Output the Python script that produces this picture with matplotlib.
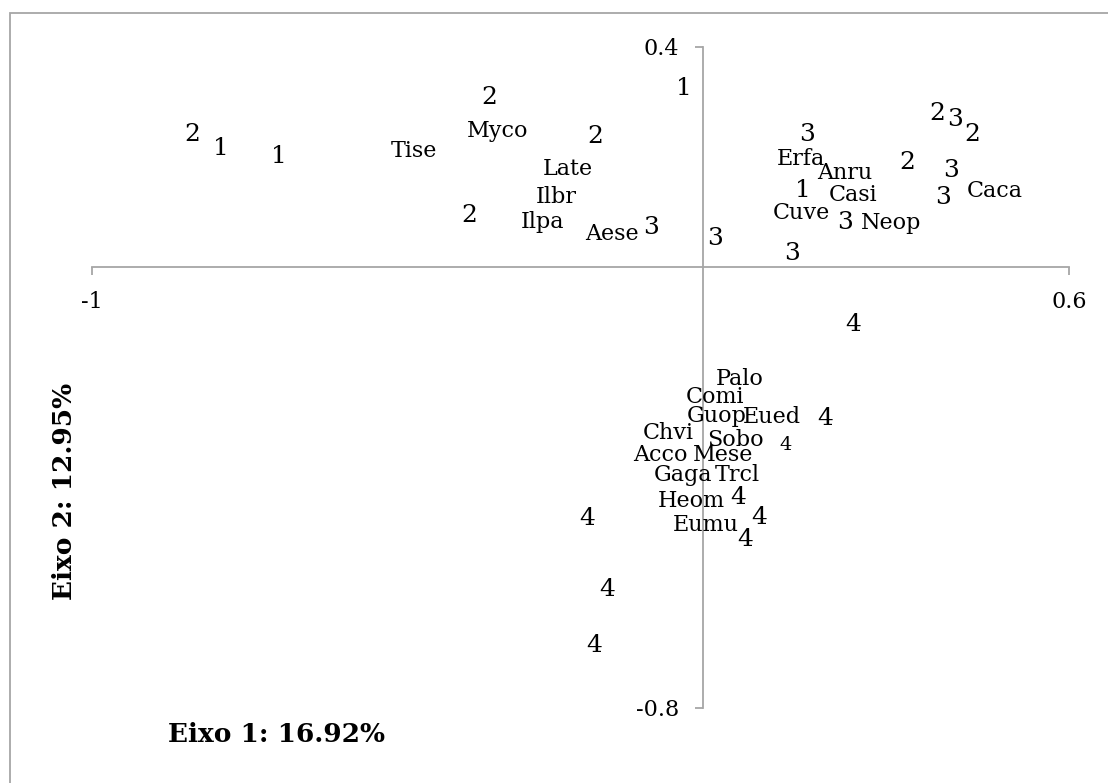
import matplotlib.pyplot as plt
from matplotlib.patches import Rectangle

# Ordination scores (axis 1, axis 2)
group_labels = ['1', '1', '1', '1',
                '2', '2', '2', '2', '2', '2', '2',
                '3', '3', '3', '3', '3', '3', '3', '3',
                '4', '4', '4', '4', '4', '4', '4', '4', '4']
group_x = [-0.789, -0.694, -0.030, 0.164,
           -0.835, -0.350, -0.382, -0.176, 0.335, 0.384, 0.441,
           -0.084, 0.021, 0.147, 0.171, 0.233, 0.413, 0.407, 0.393,
           0.247, 0.201, 0.136, 0.058, 0.093, 0.070, -0.189, -0.157, -0.178]
group_y = [0.219, 0.205, 0.328, 0.144,
           0.245, 0.312, 0.098, 0.241, 0.194, 0.284, 0.245,
           0.077, 0.056, 0.030, 0.245, 0.085, 0.272, 0.180, 0.130,
           -0.100, -0.271, -0.319, -0.413, -0.449, -0.490, -0.452, -0.581, -0.682]
small_label = 21  # this "4" is drawn in a smaller font

species = ['Tise', 'Myco', 'Late', 'Ilbr', 'Ilpa', 'Aese', 'Erfa', 'Anru',
           'Casi', 'Cuve', 'Neop', 'Caca', 'Palo', 'Comi', 'Guop', 'Eued',
           'Chvi', 'Sobo', 'Acco', 'Mese', 'Gaga', 'Trcl', 'Heom', 'Eumu']
species_x = [-0.473, -0.336, -0.220, -0.240, -0.263, -0.149, 0.161, 0.233,
             0.247, 0.161, 0.309, 0.479, 0.060, 0.021, 0.023, 0.114,
             -0.057, 0.053, -0.069, 0.034, -0.032, 0.057, -0.019, 0.005]
species_y = [0.215, 0.252, 0.182, 0.132, 0.086, 0.064, 0.201, 0.176,
             0.136, 0.103, 0.085, 0.143, -0.198, -0.231, -0.266, -0.267,
             -0.296, -0.309, -0.336, -0.336, -0.372, -0.372, -0.419, -0.463]

x_ticks = [-1, 0.6]
y_ticks = [-0.8, 0.4]
xlab = 'Eixo 1: 16.92%'
ylab = 'Eixo 2: 12.95%'

plt.rcParams['font.family'] = 'DejaVu Serif'
grey = '#a6a6a6'

fig = plt.figure(figsize=(11.08, 7.83), dpi=100)
ax = fig.add_axes([0.0830, 0.0958, 0.8818, 0.8446])
ax.set_xlim(-1, 0.6)
ax.set_ylim(-0.8, 0.4)

for i, (t, x, y) in enumerate(zip(group_labels, group_x, group_y)):
    fs = 14 if i == small_label else 18
    ax.text(x, y, t, fontsize=fs, ha='center', va='center_baseline')

for t, x, y in zip(species, species_x, species_y):
    ax.text(x, y, t, fontsize=16, ha='center', va='center_baseline')

# axes crossing at the origin, Excel style
for side in ['top', 'right']:
    ax.spines[side].set_visible(False)
ax.spines['left'].set_position(('data', 0))
ax.spines['bottom'].set_position(('data', 0))
for side in ['left', 'bottom']:
    ax.spines[side].set_color(grey)
    ax.spines[side].set_linewidth(1.3)

ax.set_xticks(x_ticks)
ax.set_xticklabels(['-1', '0.6'])
ax.set_yticks(y_ticks)
ax.set_yticklabels(['-0.8', '0.4'])
ax.tick_params(axis='x', direction='out', length=6, width=1.3, color=grey,
               labelsize=16, pad=11)
ax.tick_params(axis='y', direction='out', length=6, width=1.3, color=grey,
               labelsize=16, pad=11)

fig.text(276 / 1108, 1 - 735 / 783, xlab, fontsize=19, fontweight='bold',
         ha='center', va='center')
fig.text(64 / 1108, 1 - 491 / 783, ylab, fontsize=19, fontweight='bold',
         rotation=90, ha='center', va='center')

# chart border (only left and top edges fall inside the image)
fig.patches.append(Rectangle((10 / 1108, -0.1), 2, 1.1 - 12.7 / 783,
                             transform=fig.transFigure, fill=False,
                             edgecolor=grey, linewidth=1.3))

fig.savefig('out.png', dpi=100)
